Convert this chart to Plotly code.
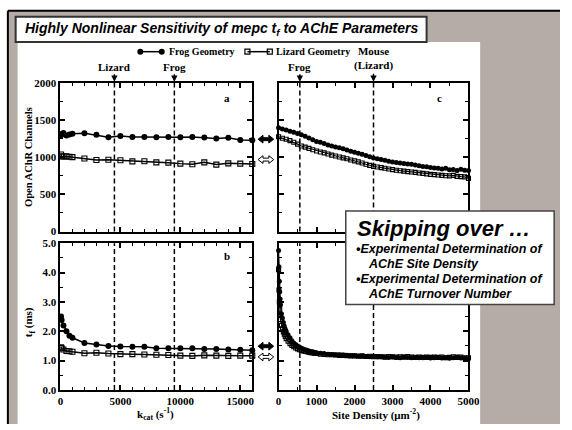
import plotly.graph_objects as go

# ---------------- data ----------------
kcat = [50, 100, 250, 500, 750, 1000, 2000, 3000, 4000, 5000, 6000, 7000, 8000,
        9000, 10000, 11000, 12000, 13000, 14000, 15000, 16000]
open_frog_k = [1295, 1310, 1325, 1290, 1305, 1315, 1323, 1300, 1268, 1285, 1272,
               1272, 1268, 1270, 1268, 1270, 1265, 1250, 1262, 1232, 1228]
open_liz_k = [1035, 1010, 1008, 1010, 1005, 1000, 983, 962, 965, 958, 943, 945,
              930, 926, 913, 905, 930, 900, 917, 913, 908]
tf_frog_k = [2.50, 2.38, 2.20, 2.00, 1.85, 1.78, 1.60, 1.55, 1.50, 1.48, 1.47,
             1.47, 1.42, 1.42, 1.42, 1.42, 1.40, 1.40, 1.38, 1.37, 1.35]
tf_liz_k = [1.45, 1.42, 1.38, 1.33, 1.32, 1.30, 1.25, 1.27, 1.24, 1.22, 1.22,
            1.21, 1.20, 1.19, 1.17, 1.16, 1.18, 1.17, 1.16, 1.17, 1.17]

site_c = [0, 100, 200, 300, 400, 500, 600, 700, 800, 900, 1000, 1100, 1200, 1300,
          1400, 1500, 1600, 1700, 1800, 1900, 2000, 2100, 2200, 2300, 2400, 2500,
          2600, 2700, 2800, 2900, 3000, 3100, 3200, 3300, 3400, 3500, 3600, 3700,
          3800, 3900, 4000, 4100, 4200, 4300, 4400, 4500, 4600, 4700, 4800, 4900, 5000]
open_frog_s = [1395, 1380, 1365, 1350, 1335, 1318, 1300, 1282, 1258, 1235, 1212,
               1200, 1185, 1165, 1150, 1138, 1128, 1112, 1095, 1078, 1065, 1052,
               1040, 1022, 1005, 988, 980, 970, 958, 945, 935, 928, 920, 915, 908,
               905, 895, 885, 875, 870, 862, 855, 850, 842, 850, 830, 835, 820,
               838, 825, 820]
open_liz_s = [1275, 1255, 1240, 1222, 1200, 1175, 1150, 1135, 1118, 1100, 1082,
              1070, 1058, 1042, 1028, 1015, 1002, 990, 978, 962, 950, 936, 922,
              905, 890, 876, 868, 860, 850, 840, 832, 825, 818, 812, 806, 800, 795,
              788, 782, 775, 768, 765, 760, 755, 750, 748, 755, 742, 738, 735, 715]

site_d = [0, 10, 20, 30, 40, 50, 75, 100, 125, 150, 175, 200, 250, 300, 350, 400,
          450, 500, 550, 600, 650, 700, 750, 800, 850, 900, 950, 1000, 1100, 1200,
          1300, 1400, 1500, 1600, 1700, 1800, 1900, 2000, 2100, 2200, 2300, 2400,
          2500, 2600, 2700, 2800, 2900, 3000, 3100, 3200, 3300, 3400, 3500, 3600,
          3700, 3800, 3900, 4000, 4100, 4200, 4300, 4400, 4500, 4600, 4700, 4800,
          4900, 5000]
tf_frog_s = [4.75, 4.20, 3.70, 3.35, 3.10, 2.90, 2.60, 2.45, 2.30, 2.18, 2.08,
             2.00, 1.88, 1.78, 1.68, 1.60, 1.55, 1.50, 1.46, 1.42, 1.40, 1.37,
             1.35, 1.33, 1.31, 1.30, 1.28, 1.27, 1.25, 1.24, 1.22, 1.21, 1.20,
             1.20, 1.19, 1.18, 1.17, 1.17, 1.16, 1.15, 1.14, 1.13, 1.14, 1.12,
             1.13, 1.12, 1.11, 1.12, 1.11, 1.10, 1.12, 1.11, 1.10, 1.11, 1.10,
             1.10, 1.11, 1.09, 1.10, 1.11, 1.09, 1.10, 1.08, 1.10, 1.12, 1.09,
             1.08, 1.07]
tf_liz_s = [4.10, 3.40, 3.00, 2.75, 2.55, 2.40, 2.20, 2.08, 1.98, 1.90, 1.82,
            1.75, 1.66, 1.58, 1.52, 1.47, 1.43, 1.40, 1.37, 1.35, 1.33, 1.31,
            1.30, 1.28, 1.27, 1.26, 1.25, 1.24, 1.22, 1.21, 1.20, 1.20, 1.19,
            1.18, 1.18, 1.17, 1.16, 1.16, 1.15, 1.16, 1.14, 1.15, 1.13, 1.14,
            1.13, 1.12, 1.14, 1.13, 1.12, 1.13, 1.12, 1.14, 1.12, 1.11, 1.12,
            1.11, 1.12, 1.11, 1.12, 1.11, 1.12, 1.10, 1.11, 1.13, 1.11, 1.12,
            1.10, 1.10]

kcat_marks = [4500, 9500]          # Lizard, Frog
kcat_mark_labels = ["Lizard", "Frog"]
site_marks = [560, 2500]           # Frog, Mouse (Lizard)
site_mark_labels = ["Frog", "Mouse<br>(Lizard)"]

# ---------------- style ----------------
W, H = 572, 430
SERIF = "Liberation Serif, Times New Roman, serif"
SANS = "Liberation Sans, Arial, sans-serif"
GREY = "#b5aca8"

def PX(x):
    return x / W

def PY(y):
    return 1 - y / H

XD_L = [PX(59), PX(256)]
XD_R = [PX(283), PX(478)]
YD_T = [PY(232), PY(79)]
YD_B = [PY(395), PY(244)]

tickfont = dict(family=SERIF, size=11, color="black", weight="bold")

def axis(domain, anchor, rng, dtick, minor, labels=True, fmt=None):
    d = dict(domain=domain, anchor=anchor, range=rng, dtick=dtick, tick0=0,
             showline=True, linecolor="black", linewidth=2, mirror="allticks",
             ticks="inside", ticklen=5, tickwidth=1.5, tickcolor="black",
             showgrid=False, zeroline=False, showticklabels=labels,
             tickfont=tickfont, fixedrange=True,
             minor=dict(dtick=minor, tick0=0, ticks="inside", ticklen=3,
                        tickwidth=1.2, tickcolor="black", showgrid=False))
    if fmt:
        d["tickformat"] = fmt
    return d

fig = go.Figure()

def series(x, y, xa, ya, frog, size=6, lw=1.5):
    if frog:
        marker = dict(symbol="circle", size=size, color="black")
    else:
        marker = dict(symbol="square-open", size=size - 1, color="black",
                      line=dict(width=1.1, color="black"))
    fig.add_trace(go.Scatter(x=x, y=y, xaxis=xa, yaxis=ya, mode="lines+markers",
                             line=dict(color="black", width=lw), marker=marker,
                             cliponaxis=False, showlegend=False, hoverinfo="skip"))

series(kcat, open_frog_k, "x", "y", True)
series(kcat, open_liz_k, "x", "y", False)
series(kcat, tf_frog_k, "x2", "y2", True)
series(kcat, tf_liz_k, "x2", "y2", False)
series(site_c, open_frog_s, "x3", "y3", True, 5, 1.2)
series(site_c, open_liz_s, "x3", "y3", False, 5, 1.2)
series(site_d, tf_frog_s, "x4", "y4", True, 5, 1.2)
series(site_d, tf_liz_s, "x4", "y4", False, 5, 1.2)

# legend samples on a pixel overlay axis
fig.add_trace(go.Scatter(x=[141, 163], y=[47, 47], xaxis="x5", yaxis="y5",
                         mode="lines+markers", line=dict(color="black", width=1.5),
                         marker=dict(symbol="circle", size=6, color="black"),
                         showlegend=False, hoverinfo="skip", cliponaxis=False))
fig.add_trace(go.Scatter(x=[251, 274], y=[47, 47], xaxis="x5", yaxis="y5",
                         mode="lines+markers", line=dict(color="black", width=1.5),
                         marker=dict(symbol="square-open", size=5, color="black",
                                     line=dict(width=1.2, color="black")),
                         showlegend=False, hoverinfo="skip", cliponaxis=False))

def prect(x0, y0, x1, y1, **kw):
    d = dict(type="rect", xref="paper", yref="paper", x0=PX(x0), x1=PX(x1),
             y0=PY(y1), y1=PY(y0))
    d.update(kw)
    return d

def pline(x0, y0, x1, y1, **kw):
    d = dict(type="line", xref="paper", yref="paper", x0=PX(x0), x1=PX(x1),
             y0=PY(y0), y1=PY(y1))
    d.update(kw)
    return d

shapes = []
shapes.append(prect(5, 5, W, H, fillcolor=GREY, line=dict(width=0), layer="below"))
shapes.append(pline(5, 5, W, 5, line=dict(color="black", width=2), layer="below"))
shapes.append(pline(5, 5, 5, H, line=dict(color="black", width=2), layer="below"))
shapes.append(prect(15, 37, 490, H, fillcolor="white", line=dict(width=0), layer="below"))
shapes.append(prect(13, 11, 435, 37, fillcolor="white",
                    line=dict(color="#333333", width=2), layer="below"))

# dashed marker lines
for xv in kcat_marks:
    for xa, ya in (("x", "y"), ("x2", "y2")):
        shapes.append(dict(type="line", xref=xa, yref=ya + " domain", x0=xv, x1=xv,
                           y0=0, y1=1, line=dict(color="black", width=1.5, dash="5px,3px")))
for xv in site_marks:
    for xa, ya in (("x3", "y3"), ("x4", "y4")):
        shapes.append(dict(type="line", xref=xa, yref=ya + " domain", x0=xv, x1=xv,
                           y0=0, y1=1, line=dict(color="black", width=1.5, dash="5px,3px")))

# double arrows between panels
def dbl_arrow(yc, fill):
    x0, x1 = 262, 278
    pts = [(x0, yc), (x0 + 5, yc - 4), (x0 + 5, yc - 1.5), (x1 - 5, yc - 1.5),
           (x1 - 5, yc - 4), (x1, yc), (x1 - 5, yc + 4), (x1 - 5, yc + 1.5),
           (x0 + 5, yc + 1.5), (x0 + 5, yc + 4)]
    p = "M " + " L ".join(f"{PX(a):.5f},{PY(b):.5f}" for a, b in pts) + " Z"
    return dict(type="path", xref="paper", yref="paper", path=p, fillcolor=fill,
                line=dict(color="black", width=1), layer="above")

shapes += [dbl_arrow(137, "black"), dbl_arrow(158, "white"),
           dbl_arrow(350, "black"), dbl_arrow(361, "white")]

# "Skipping over" box
shapes.append(prect(352, 211, 566, 307, fillcolor="white",
                    line=dict(color="#444444", width=1.5), layer="above"))

ann = []
def txt(x, y, text, size=11, font=SERIF, xanchor="center", italic=False, angle=0, **kw):
    f = dict(family=font, size=size, color="black", weight="bold")
    if italic:
        f["style"] = "italic"
    a = dict(xref="paper", yref="paper", x=PX(x), y=PY(y), text=text, showarrow=False,
             xanchor=xanchor, yanchor="middle", font=f, textangle=angle)
    a.update(kw)
    ann.append(a)

txt(21, 24, "Highly Nonlinear Sensitivity of mepc t<sub>f</sub> to AChE Parameters",
    size=14, font=SANS, xanchor="left", italic=True)
txt(168, 47, "Frog Geometry", size=10, xanchor="left")
txt(278, 47, "Lizard Geometry", size=10, xanchor="left")
txt(26, 155, "Open AChR Channels", size=10.5, angle=-90)
txt(27, 325, "t<sub>f</sub> (ms)", size=11, angle=-90)
txt(157, 420, "k<sub>cat</sub> (s<sup>-1</sup>)")
txt(383, 420, "Site Density (\u03bcm<sup>-2</sup>)")

txt(361, 229, "Skipping over \u2026", size=22, font=SANS, xanchor="left", italic=True)
txt(360, 250, "\u2022Experimental Determination of", size=12.5, font=SANS, xanchor="left", italic=True)
txt(373, 265, "AChE Site Density", size=12.5, font=SANS, xanchor="left", italic=True)
txt(360, 281, "\u2022Experimental Determination of", size=12.5, font=SANS, xanchor="left", italic=True)
txt(373, 296, "AChE Turnover Number", size=12.5, font=SANS, xanchor="left", italic=True)

# panel letters
lf = dict(family=SERIF, size=11, color="black", weight="bold")
ann.append(dict(xref="x", yref="y", x=13900, y=1800, text="a", showarrow=False, font=lf))
ann.append(dict(xref="x2", yref="y2", x=13900, y=4.55, text="b", showarrow=False, font=lf))
ann.append(dict(xref="x3", yref="y3", x=4230, y=1800, text="c", showarrow=False, font=lf))

# marker arrows above the top panels
for xv, lab in zip(kcat_marks, kcat_mark_labels):
    ann.append(dict(xref="x", yref="y domain", x=xv, y=1, text=lab, showarrow=True,
                    ax=0, ay=-16, arrowhead=2, arrowsize=0.9, arrowwidth=1.4,
                    arrowcolor="black", standoff=1, font=lf))
for xv, lab in zip(site_marks, site_mark_labels):
    ay = -16 if "<br>" not in lab else -24
    ann.append(dict(xref="x3", yref="y3 domain", x=xv, y=1, text=lab, showarrow=True,
                    ax=0, ay=ay, arrowhead=2, arrowsize=0.9, arrowwidth=1.4,
                    arrowcolor="black", standoff=1, font=lf))

fig.update_layout(
    width=W, height=H, autosize=False,
    margin=dict(l=0, r=0, t=0, b=0, pad=0),
    paper_bgcolor="white", plot_bgcolor="rgba(0,0,0,0)",
    showlegend=False,
    xaxis=axis(XD_L, "y", [0, 16000], 5000, 1000, labels=False, fmt="d"),
    yaxis=axis(YD_T, "x", [0, 2000], 500, 250),
    xaxis2=axis(XD_L, "y2", [0, 16000], 5000, 1000, fmt="d"),
    yaxis2=axis(YD_B, "x2", [0, 5], 1, 0.5, fmt=".1f"),
    xaxis3=axis(XD_R, "y3", [0, 5000], 1000, 500, labels=False, fmt="d"),
    yaxis3=axis(YD_T, "x3", [0, 2000], 500, 250, labels=False),
    xaxis4=axis(XD_R, "y4", [0, 5000], 1000, 500, fmt="d"),
    yaxis4=axis(YD_B, "x4", [0, 5], 1, 0.5, labels=False),
    xaxis5=dict(domain=[0, 1], anchor="y5", range=[0, W], visible=False, fixedrange=True),
    yaxis5=dict(domain=[0, 1], anchor="x5", range=[H, 0], visible=False, fixedrange=True),
    shapes=shapes,
    annotations=ann,
)

fig.write_html("out.html", config={"displayModeBar": False},
               post_script="document.documentElement.style.overflow='hidden';document.body.style.margin='0';document.body.style.overflow='hidden';")
